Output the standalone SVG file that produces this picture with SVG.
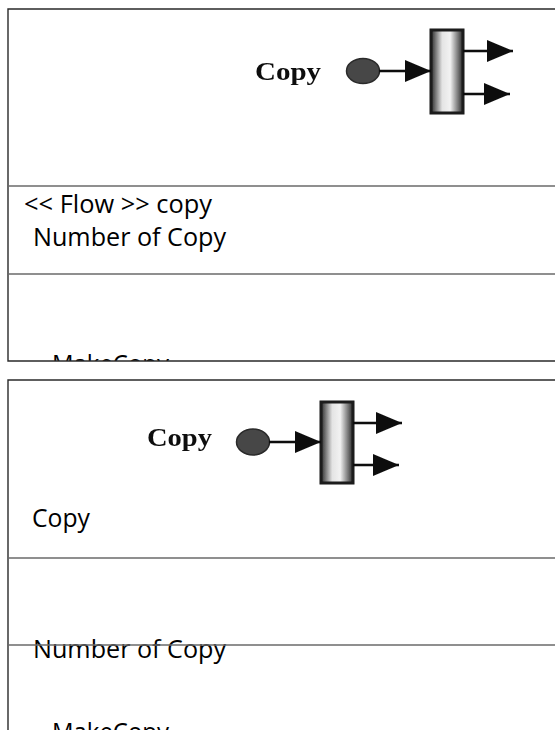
<svg xmlns="http://www.w3.org/2000/svg" width="555" height="730" viewBox="0 0 555 730">
  <style>
    .frame { stroke: #2a2a2a; stroke-width: 1.4; fill: none; }
    .divider { stroke: #6a6a6a; stroke-width: 1.6; fill: none; }
    .label { font-family: "Open Sans", "Liberation Sans", sans-serif; font-size: 25px; fill: #000; }
    .imglabel { font-family: "Liberation Serif", "DejaVu Serif", serif; font-weight: bold; font-size: 26px; fill: #111; }
    .dot { fill: #474747; stroke: #2a2a2a; stroke-width: 1.5; }
    .bar { fill: url(#barGrad); stroke: #1a1a1a; stroke-width: 3; }
    .flow { stroke: #111; stroke-width: 2.6; fill: none; marker-end: url(#head); }
  </style>
  <defs>
    <linearGradient id="barGrad" x1="0" y1="0" x2="1" y2="0">
      <stop offset="0" stop-color="#2a2a2a"/>
      <stop offset="0.35" stop-color="#e4e4e4"/>
      <stop offset="0.6" stop-color="#f2f2f2"/>
      <stop offset="1" stop-color="#2a2a2a"/>
    </linearGradient>
    <marker id="head" viewBox="0 0 26 22" refX="26" refY="11" markerWidth="26" markerHeight="22" markerUnits="userSpaceOnUse" orient="auto">
      <path d="M0,0 L26,11 L0,22 Z" fill="#111"/>
    </marker>
    <filter id="scan" x="-10%" y="-10%" width="120%" height="120%">
      <feGaussianBlur stdDeviation="0.6"/>
    </filter>
    <clipPath id="clipTop">
      <rect x="0" y="0" width="555" height="361"/>
    </clipPath>
  </defs>

  <rect x="0" y="0" width="555" height="730" fill="#ffffff"/>

  <!-- Upper box -->
  <g id="box-top">
    <text class="label" x="24" y="213" textLength="188" lengthAdjust="spacingAndGlyphs">&lt;&lt; Flow &gt;&gt; copy</text>
    <text class="label" x="33" y="246" textLength="193" lengthAdjust="spacingAndGlyphs">Number of Copy</text>
    <g clip-path="url(#clipTop)">
      <text class="label" x="52" y="373" textLength="117" lengthAdjust="spacingAndGlyphs">MakeCopy</text>
    </g>
    <path class="frame" d="M555,9 H8 V361 H555"/>
    <line class="divider" x1="8" y1="186" x2="555" y2="186"/>
    <line class="divider" x1="8" y1="274" x2="555" y2="274"/>
  </g>

  <!-- Upper copy symbol -->
  <g id="copy-symbol-top" filter="url(#scan)">
    <text class="imglabel" x="255" y="80" textLength="66" lengthAdjust="spacingAndGlyphs">Copy</text>
    <ellipse class="dot" cx="363" cy="71" rx="16.5" ry="12.5"/>
    <rect class="bar" x="431" y="30" width="32" height="83"/>
  </g>

  <!-- Lower box -->
  <g id="box-bottom">
    <text class="label" x="32" y="527" textLength="58" lengthAdjust="spacingAndGlyphs">Copy</text>
    <text class="label" x="33" y="658" textLength="193" lengthAdjust="spacingAndGlyphs">Number of Copy</text>
    <text class="label" x="52" y="741" textLength="117" lengthAdjust="spacingAndGlyphs">MakeCopy</text>
    <path class="frame" d="M555,380 H8 V730"/>
    <line class="divider" x1="8" y1="558" x2="555" y2="558"/>
    <line class="divider" x1="8" y1="645" x2="555" y2="645"/>
  </g>

  <!-- Lower copy symbol -->
  <g id="copy-symbol-bottom" filter="url(#scan)">
    <text class="imglabel" x="147" y="446" textLength="65" lengthAdjust="spacingAndGlyphs">Copy</text>
    <ellipse class="dot" cx="253" cy="442" rx="16.5" ry="13"/>
    <rect class="bar" x="321" y="402" width="32" height="81"/>
  </g>

  <!-- Connectors -->
  <g id="connectors" filter="url(#scan)">
    <line class="flow" x1="379" y1="71" x2="431" y2="71"/>
    <line class="flow" x1="463" y1="51" x2="513" y2="51"/>
    <line class="flow" x1="463" y1="94" x2="510" y2="94"/>
    <line class="flow" x1="269" y1="442" x2="321" y2="442"/>
    <line class="flow" x1="353" y1="423" x2="402" y2="423"/>
    <line class="flow" x1="353" y1="465" x2="399" y2="465"/>
  </g>
</svg>
